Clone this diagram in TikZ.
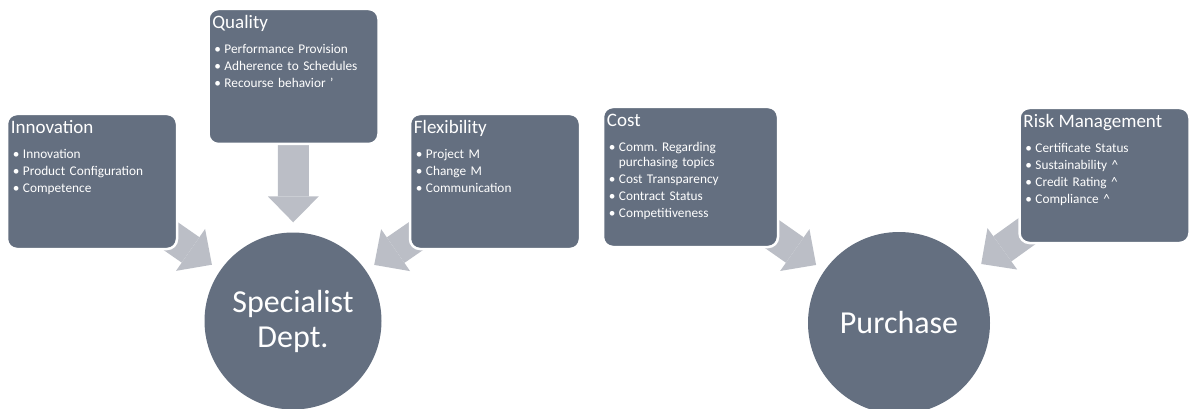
\documentclass[tikz,border=0pt]{standalone}
\usepackage{fontspec}
\setmainfont{Carlito}
\usetikzlibrary{positioning,arrows.meta,backgrounds}
\definecolor{slate}{RGB}{100,111,128}
\definecolor{lightslate}{RGB}{187,190,198}
\tikzset{basic/.style={fill=slate,text=white,inner sep=0pt}}
\tikzset{card/.style={basic,draw=white,line width=2.5pt,rounded corners=10pt,minimum width=170pt,minimum height=135pt}}
\tikzset{cardtext/.style={anchor=base west,text=white,inner sep=0pt,text width=165pt,align=left,font=\fontsize{13.3}{17}\selectfont\frenchspacing}}
\tikzset{hub/.style={basic,circle,align=center,font=\fontsize{32}{35}\selectfont}}
\tikzset{fatarrow/.style={draw=lightslate,line width=31pt,-{Triangle[width=51pt,length=26pt,line width=0pt]},shorten >=10pt}}
\newcommand{\cardhead}[1]{{\fontsize{19}{22}\selectfont #1}\\[8pt]}
\newcommand{\bul}{\hspace*{2pt}\makebox[10pt][l]{\textbullet}}

\begin{document}
\begin{tikzpicture}[x=1pt,y=-1pt]
        \useasboundingbox (0,0) rectangle (1189,409);
        \node[card] (innov) at (92,181.5) {};
        \node[cardtext] (innovtext) at ([xshift=5pt,yshift=-21pt]innov.north west) {\cardhead{Innovation}\bul Innovation\\ \bul Product Configuration\\ \bul Competence};
        \node[card] (quality) at (293.5,76.5) {};
        \node[cardtext] (qualitytext) at ([xshift=5pt,yshift=-21pt]quality.north west) {\cardhead{Quality}\bul Performance Provision\\ \bul Adherence to Schedules\\ \bul Recourse behavior ’};
        \node[card] (flex) at (495,181.5) {};
        \node[cardtext] (flextext) at ([xshift=5pt,yshift=-21pt]flex.north west) {\cardhead{Flexibility}\bul Project M\\ \bul Change M\\ \bul Communication};
        \node[card,minimum width=175pt,minimum height=140pt] (cost) at (690.5,177) {};
        \node[cardtext] (costtext) at ([xshift=5pt,yshift=-21pt]cost.north west) {\cardhead{Cost}\bul Comm. Regarding\\[-2pt] \hspace*{12pt}purchasing topics\\ \bul Cost Transparency\\ \bul Contract Status\\ \bul Competitiveness};
        \node[card] (risk) at (1104.5,175.5) {};
        \node[cardtext] (risktext) at ([xshift=5pt,yshift=-21pt]risk.north west) {\cardhead{Risk Management}\bul Certificate Status\\ \bul Sustainability \textasciicircum\\ \bul Credit Rating \textasciicircum\\ \bul Compliance \textasciicircum};
        \node[hub,minimum size=177pt] (spec) at (293,321) {Specialist\\Dept.};
        \node[hub,minimum size=182pt] (purch) at (899,323) {Purchase};
        \begin{pgfonlayer}{background}
            \draw[fatarrow] (innov.center) -- (spec);
            \draw[fatarrow] (quality.center) -- (spec);
            \draw[fatarrow] (flex.center) -- (spec);
            \draw[fatarrow] (cost.center) -- (purch);
            \draw[fatarrow] (risk.center) -- (purch);
        \end{pgfonlayer}
\end{tikzpicture}
\end{document}
